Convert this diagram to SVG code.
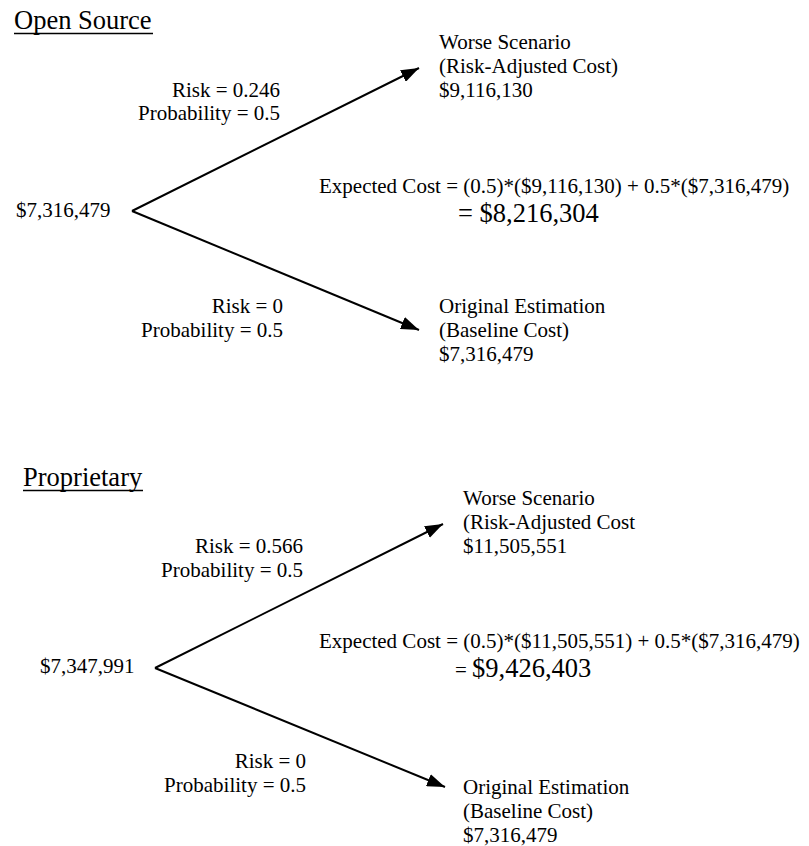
<svg xmlns="http://www.w3.org/2000/svg" width="809" height="846" viewBox="0 0 809 846">
<style>
text{font-family:"Liberation Serif","Times New Roman",Times,"DejaVu Serif",serif;font-size:21px;fill:#000}
.title{font-size:26.5px}
.big{font-size:26.5px}
.r{text-anchor:end}
.conn line{stroke:#000;stroke-width:2;fill:none}
.ul{stroke:#000;stroke-width:1.5}
</style>
<defs>
<marker id="ah" markerUnits="userSpaceOnUse" markerWidth="18" markerHeight="13" refX="18" refY="6.5" orient="auto" viewBox="0 0 18 13">
<path d="M0,0 L18,6.5 L0,13 Z" fill="#000"/>
</marker>
</defs>
<rect width="809" height="846" fill="#fff"/>

<g id="title-open-source" font-family="Liberation Serif, serif">
<text class="title" x="14" y="29">Open Source</text>
<line class="ul" x1="14" y1="33.5" x2="153" y2="33.5"/>
</g>
<g id="title-proprietary">
<text class="title" x="23" y="486">Proprietary</text>
<line class="ul" x1="23" y1="490.5" x2="143" y2="490.5"/>
</g>

<g class="conn" id="connectors">
<line x1="132" y1="211" x2="419" y2="68" marker-end="url(#ah)"/>
<line x1="132" y1="211" x2="419" y2="330" marker-end="url(#ah)"/>
<line x1="155" y1="668" x2="443" y2="524" marker-end="url(#ah)"/>
<line x1="155" y1="668" x2="445" y2="787" marker-end="url(#ah)"/>
</g>

<g id="os-root"><text x="16" y="217">$7,316,479</text></g>
<g id="os-upper-label">
<text class="r" x="280" y="97">Risk = 0.246</text>
<text class="r" x="280" y="120">Probability = 0.5</text>
</g>
<g id="os-worse">
<text x="439" y="49">Worse Scenario</text>
<text x="439" y="73">(Risk-Adjusted Cost)</text>
<text x="439" y="97">$9,116,130</text>
</g>
<g id="os-expected">
<text x="319" y="193">Expected Cost = (0.5)*($9,116,130) + 0.5*($7,316,479)</text>
<text class="big" x="458" y="222">= $8,216,304</text>
</g>
<g id="os-lower-label">
<text class="r" x="283" y="313">Risk = 0</text>
<text class="r" x="283" y="337">Probability = 0.5</text>
</g>
<g id="os-original">
<text x="439" y="313">Original Estimation</text>
<text x="439" y="337">(Baseline Cost)</text>
<text x="439" y="361">$7,316,479</text>
</g>

<g id="pr-root"><text x="40" y="673">$7,347,991</text></g>
<g id="pr-upper-label">
<text class="r" x="303" y="553">Risk = 0.566</text>
<text class="r" x="303" y="577">Probability = 0.5</text>
</g>
<g id="pr-worse">
<text x="463" y="505">Worse Scenario</text>
<text x="463" y="529">(Risk-Adjusted Cost</text>
<text x="463" y="553">$11,505,551</text>
</g>
<g id="pr-expected">
<text x="319" y="648">Expected Cost = (0.5)*($11,505,551) + 0.5*($7,316,479)</text>
<text x="455" y="677">= <tspan class="big">$9,426,403</tspan></text>
</g>
<g id="pr-lower-label">
<text class="r" x="306" y="768">Risk = 0</text>
<text class="r" x="306" y="792">Probability = 0.5</text>
</g>
<g id="pr-original">
<text x="463" y="794">Original Estimation</text>
<text x="463" y="818">(Baseline Cost)</text>
<text x="463" y="842">$7,316,479</text>
</g>
</svg>
